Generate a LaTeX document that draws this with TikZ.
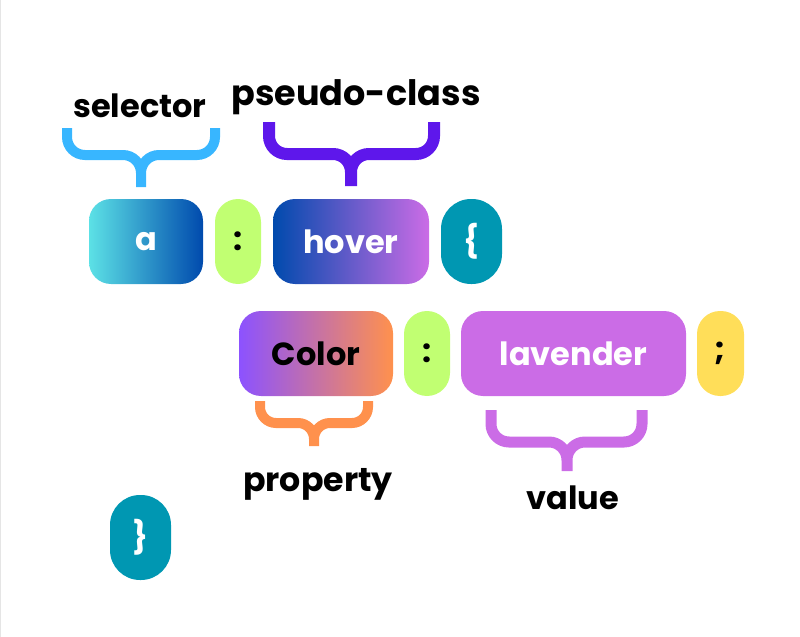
\documentclass[tikz,border=0pt]{standalone}
\usepackage{fontspec}
\setmainfont{Poppins}
\definecolor{skyblue}{HTML}{38B6FF}
\definecolor{violet}{HTML}{5E17EB}
\definecolor{cyanish}{HTML}{5CE1E6}
\definecolor{royal}{HTML}{004AAD}
\definecolor{orchid}{HTML}{CB6CE6}
\definecolor{lilac}{HTML}{8C52FF}
\definecolor{tangerine}{HTML}{FF914D}
\definecolor{lime}{HTML}{C1FF72}
\definecolor{petrol}{HTML}{0097B2}
\definecolor{butter}{HTML}{FFDE59}
\tikzset{%
  token/.style    = {shape=rectangle, rounded corners=11pt, inner sep=0pt,%
                     minimum height=42.5pt, font=\fontsize{16}{19}\selectfont\bfseries},%
  punct/.style    = {token, rounded corners=11.5pt, minimum width=23pt},%
  curlybox/.style = {token, rounded corners=15pt, minimum width=30.5pt,%
                     fill=petrol, text=white},%
  tagtext/.style  = {anchor=base, font=\fontsize{16}{19}\selectfont\bfseries},%
  curly/.style    = {line width=5pt, rounded corners=9pt}%
}
\begin{document}
\begin{tikzpicture}[x=0.5pt, y=-0.5pt]
  \useasboundingbox (0,0) rectangle (800,637);
  \draw[gray!20, line width=0.5pt] (0.5,0) -- (0.5,637);

  % first line: a:hover {
  \node[token, minimum width=57pt, left color=cyanish, right color=royal,
        text=white] (sel) at (146,241.5) {a};
  \node[punct, fill=lime] (colA) at (238,241.5) {:};
  \node[token, minimum width=78pt, left color=royal, right color=orchid,
        text=white] (pseudo) at (351,241.5) {hover};
  \node[curlybox] (open) at (471.5,241.5) {\{};

  % second line: Color : lavender ;
  \node[token, minimum width=77pt, left color=lilac, right color=tangerine]
        (prop) at (316,353.5) {Color};
  \node[punct, fill=lime] (colB) at (427,353.5) {:};
  \node[token, minimum width=112.5pt, fill=orchid, text=white]
        (val) at (573.5,353.5) {lavender};
  \node[punct, minimum width=23.5pt, fill=butter] (semi) at (720.5,353.5) {;};

  % closing brace
  \node[curlybox] (close) at (140.5,537.5) {\}};

  % braces and their names
  \draw[curly, skyblue] (67,128) -- (67,155) -- (141,155) -- (141,187)
                        (215,128) -- (215,155) -- (141,155) -- (141,187);
  \node[tagtext] (selname) at (140,118) {selector};
  \draw[curly, violet, line width=6pt]
        (269,122) -- (269,154) -- (351,154) -- (351,186)
        (434,122) -- (434,154) -- (351,154) -- (351,186);
  \node[tagtext, font=\fontsize{17.5}{20}\selectfont\bfseries] (pseudoname)
        at (356,105) {pseudo-class};
  \draw[curly, tangerine, rounded corners=8pt]
        (260,401) -- (260,423) -- (314,423) -- (314,446)
        (368,401) -- (368,423) -- (314,423) -- (314,446);
  \node[tagtext, font=\fontsize{16.6}{19}\selectfont\bfseries] (propname)
        at (318,491) {property};
  \draw[curly, orchid, line width=5.5pt]
        (491,410) -- (491,442) -- (567,442) -- (567,471)
        (642,410) -- (642,442) -- (567,442) -- (567,471);
  \node[tagtext] (valname) at (573,509) {value};
\end{tikzpicture}
\end{document}
